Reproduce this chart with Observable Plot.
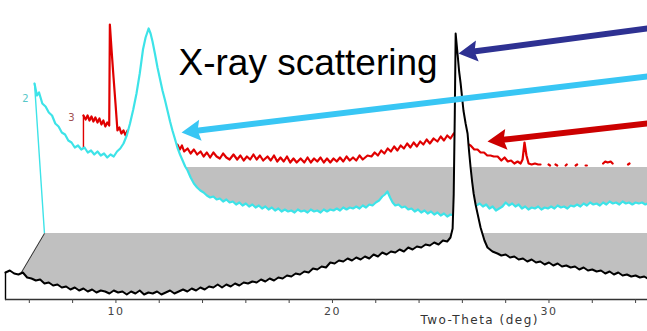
<!DOCTYPE html>
<html><head><meta charset="utf-8">
<script src="https://cdn.jsdelivr.net/npm/d3@7"></script>
<script src="https://cdn.jsdelivr.net/npm/@observablehq/plot@0.6"></script>
<style>
html,body{margin:0;padding:0;background:#fff;overflow:hidden}
</style></head><body><div id="chart"></div>
<script>
// ---- data (two-theta in degrees, intensity in arbitrary counts above each trace's own baseline) ----
const seriesLabels = ["1", "2", "3"];
const xTicks = [6, 8, 10, 12, 14, 16, 18, 20, 22, 24, 26, 28, 30, 32, 34];
const xTickLabels = [10, 20, 30];
const axisTitle = "Two-Theta (deg)";
const titleText = "X-ray scattering";

// trace 1 (front, black)
const black = [
[4.9,27],[5.1,29],[5.3,26],[5.5,25],[5.7,27],[5.9,22],[6.1,21],[6.3,19],[6.5,20],[6.7,16],[6.9,17],[7.1,14],[7.3,15],[7.5,12],[7.7,13],[7.9,10],[8.1,12],[8.3,9],[8.5,11],[8.7,8],[8.9,10],[9.1,7],[9.3,9],[9.5,8],[9.7,6],[9.9,9],[10.1,7],[10.3,8],[10.5,5],[10.7,8],[10.9,6],[11.1,9],[11.3,5],[11.5,7],[11.7,6],[11.9,8],[12.1,5],[12.3,7],[12.5,9],[12.7,6],[12.9,8],[13.1,10],[13.3,8],[13.5,11],[13.7,9],[13.9,12],[14.1,10],[14.3,13],[14.5,12],[14.7,15],[14.9,12],[15.1,15],[15.3,13],[15.5,16],[15.7,14],[15.9,17],[16.1,16],[16.3,18],[16.5,17],[16.7,20],[16.9,18],[17.1,21],[17.3,19],[17.5,22],[17.7,21],[17.9,24],[18.1,23],[18.3,26],[18.5,25],[18.7,28],[18.9,27],[19.1,31],[19.3,30],[19.5,33],[19.7,32],[19.9,37],[20.1,36],[20.3,39],[20.5,38],[20.7,41],[20.9,39],[21.1,42],[21.3,40],[21.5,43],[21.7,41],[21.9,45],[22.1,43],[22.3,47],[22.5,45],[22.7,48],[22.9,47],[23.1,50],[23.3,48],[23.5,52],[23.7,50],[23.9,53],[24.1,52],[24.3,55],[24.5,54],[24.7,57],[24.9,55],[25.1,59],[25.3,58],[25.45,62],[25.55,71],[25.6,105],[25.65,185],[25.69,266],[25.78,245],[25.85,228],[25.92,216],[26.05,189],[26.15,176],[26.24,166],[26.31,148],[26.38,132],[26.45,118],[26.52,106],[26.61,95],[26.7,86],[26.84,72],[27.02,59],[27.16,52],[27.39,48],[27.62,46],[27.8,44],[28.0,45],[28.2,42],[28.4,43],[28.6,40],[28.8,41],[29.0,38],[29.2,40],[29.4,37],[29.6,38],[29.8,35],[30.0,37],[30.2,34],[30.4,36],[30.6,33],[30.8,34],[31.0,32],[31.2,33],[31.4,30],[31.6,32],[31.8,29],[32.0,30],[32.2,28],[32.4,29],[32.6,26],[32.8,28],[33.0,25],[33.2,27],[33.4,24],[33.6,25],[33.8,23],[34.0,24],[34.2,22],[34.4,23],[34.55,21]
];

// trace 2 (middle, cyan)
const cyan = [
[4.44,150],[4.55,138],[4.65,141],[4.8,130],[4.95,127],[5.1,121],[5.25,118],[5.4,110],[5.55,107],[5.7,101],[5.85,99],[6.0,93],[6.15,91],[6.3,86],[6.45,88],[6.6,84],[6.75,86],[6.9,81],[7.05,83],[7.2,79],[7.35,82],[7.5,78],[7.65,80],[7.8,76],[7.95,79],[8.1,77],[8.25,82],[8.4,85],[8.55,90],[8.7,98],[8.85,110],[9.0,124],[9.15,140],[9.3,160],[9.45,184],[9.57,196],[9.71,205],[9.8,200],[9.89,192],[10.0,180],[10.12,166],[10.25,153],[10.35,143],[10.47,133],[10.58,123],[10.7,112],[10.81,103],[10.92,95],[11.04,86],[11.16,79],[11.28,73],[11.4,67],[11.51,63],[11.65,56],[11.8,50],[11.95,46],[12.1,43],[12.25,41],[12.4,38],[12.55,36],[12.7,37],[12.85,34],[13.0,35],[13.15,32],[13.3,34],[13.45,31],[13.6,32],[13.75,29],[13.9,31],[14.05,28],[14.2,30],[14.35,27],[14.5,29],[14.65,26],[14.8,28],[14.95,25],[15.1,27],[15.25,24],[15.4,26],[15.55,23],[15.7,25],[15.85,22],[16.0,24],[16.15,22],[16.3,23],[16.45,21],[16.6,24],[16.75,22],[16.9,23],[17.05,21],[17.2,24],[17.35,22],[17.5,23],[17.65,21],[17.8,24],[17.95,22],[18.1,24],[18.25,23],[18.4,25],[18.55,23],[18.7,26],[18.85,24],[19.0,26],[19.15,25],[19.3,27],[19.45,25],[19.6,28],[19.75,26],[19.9,29],[20.05,28],[20.2,31],[20.35,33],[20.5,37],[20.62,39],[20.74,42],[20.86,36],[20.98,31],[21.1,28],[21.25,29],[21.4,26],[21.55,27],[21.7,24],[21.85,25],[22.0,22],[22.15,24],[22.3,21],[22.45,23],[22.6,20],[22.75,22],[22.9,19],[23.05,21],[23.2,18],[23.35,20],[23.5,17],[23.65,19],[23.8,18],[23.95,22],[24.1,20],[24.25,24],[24.4,22],[24.55,26],[24.7,25],[24.85,28],[25.0,30],[25.15,27],[25.3,29],[25.45,25],[25.6,27],[25.75,23],[25.9,25],[26.05,27],[26.2,31],[26.35,28],[26.5,30],[26.65,27],[26.8,29],[26.95,25],[27.1,27],[27.25,24],[27.4,26],[27.55,25],[27.7,27],[27.85,24],[28.0,26],[28.15,25],[28.3,27],[28.45,25],[28.6,28],[28.75,26],[28.9,27],[29.05,25],[29.2,28],[29.35,27],[29.5,29],[29.65,27],[29.8,30],[29.95,28],[30.1,31],[30.25,29],[30.4,30],[30.55,28],[30.7,31],[30.85,29],[31.0,32],[31.15,30],[31.3,31],[31.45,29],[31.6,32],[31.75,30],[31.9,31],[32.05,29],[32.2,31],[32.35,30],[32.5,31],[32.65,29],[32.75,30]
];

// trace 3 (back, red); null = not visible above the baseline
const red = [
[4.9,52],[5.0,48],[5.09,52],[5.18,47],[5.27,51],[5.36,46],[5.45,50],[5.55,45],[5.64,49],[5.73,43],[5.82,47],[5.91,41],[6.0,45],[6.09,42],[6.12,143],[6.2,117],[6.29,90],[6.38,64],[6.47,37],[6.56,40],[6.65,34],[6.75,37],[6.85,32],[6.94,37],[7.1,34],[7.3,33],[7.5,31],[7.7,30],[7.9,29],[8.1,28],[8.3,27],[8.5,27],[8.7,25],[8.9,24],[9.05,23],[9.24,23],[9.35,18],[9.45,22],[9.55,16],[9.71,19],[9.85,14],[10.0,18],[10.15,13],[10.31,16],[10.45,11],[10.6,15],[10.75,10],[10.9,15],[11.05,11],[11.2,9],[11.35,14],[11.5,10],[11.65,8],[11.83,13],[12.0,8],[12.15,12],[12.3,7],[12.45,11],[12.6,8],[12.75,13],[12.9,8],[13.05,12],[13.2,7],[13.4,11],[13.55,7],[13.7,12],[13.85,6],[14.0,10],[14.15,6],[14.3,11],[14.45,5],[14.6,9],[14.75,5],[14.93,9],[15.1,5],[15.25,10],[15.4,5],[15.55,9],[15.7,6],[15.85,10],[16.0,5],[16.15,9],[16.3,5],[16.45,9],[16.6,6],[16.75,10],[16.9,6],[17.05,11],[17.2,7],[17.35,10],[17.5,7],[17.65,12],[17.8,8],[18.02,12],[18.2,11],[18.35,15],[18.5,12],[18.65,17],[18.8,14],[18.95,19],[19.1,16],[19.25,21],[19.4,17],[19.55,22],[19.7,19],[19.85,24],[20.0,20],[20.15,25],[20.3,21],[20.45,26],[20.6,23],[20.75,28],[20.9,24],[21.07,29],[21.25,26],[21.4,31],[21.55,27],[21.7,32],[21.85,29],[22.0,34],[22.15,30],[22.3,28],[22.45,26],[22.6,24],[22.78,22],[22.95,18],[23.1,18],[23.24,15],[23.4,15],[23.55,12],[23.7,12],[23.85,11],[24.03,11],[24.2,7],[24.35,10],[24.5,6],[24.65,7],[24.8,4],[24.95,6],[25.09,4],[25.18,8],[25.27,25],[25.36,12],[25.46,4],[25.6,3],[25.75,4],[25.9,3],[26.01,3],[26.1,null],[26.38,3],[26.45,2],[26.55,null],[26.7,3],[26.78,2],[26.85,null],[27.17,2],[27.22,3],[27.3,null],[27.63,2],[27.7,3],[27.78,null],[28.09,2],[28.15,2],[28.22,null],[28.9,4],[29.0,6],[29.11,5],[29.25,6],[29.34,4],[29.4,null],[30.05,3],[30.12,4],[30.18,null]
];

// annotation arrows: start (off the right edge) and tip, in axis coordinates
const arrows = [
  {target: "peak",  x1: 35.2, y1: 272.9, x2: 25.82, y2: 246},
  {target: "cyan",  x1: 35.2, y1: 224.7, x2: 13.03, y2: 167},
  {target: "red",   x1: 35.2, y1: 177.6, x2: 27.16, y2: 158}
];

// ---- layout & style ----
const W = 647, H = 331, ML = 5, MR = 0, MT = 0, MB = 32;
const X0 = 4.9, X1 = 34.55;          // visible two-theta range of the front trace
const DX = 1.8, DY = 66;             // 3-D offset between stacked traces
const GRAY = "#c0c0c0";
const COLORS = {black: "#000000", cyan: "#3de3e8", red: "#e00000"};
const WIDTHS = {black: 2, cyan: 2.2, red: 2.2};
const ARROW_COLORS = {peak: "#2e3192", cyan: "#38c6f4", red: "#cc0000"};
const HEAD_LEN = 19, HEAD_HALF = 10.5, SHAFT = 6;

const xs = d3.scaleLinear([X0, X1], [ML, W - MR]);
const ys = d3.scaleLinear([0, H - MT - MB], [H - MB, MT]);

const px = k => d => d[0] + k * DX;
const py = k => d => (d[1] == null ? NaN : d[1] + k * DY);

function planeMarks(k) {
  const poly = [
    [X0 + k * DX, k * DY, k * DY],
    [X0 + (k + 1) * DX, k * DY, (k + 1) * DY],
    [X1, k * DY, (k + 1) * DY]
  ];
  return [
    Plot.areaY(poly, {x: d => d[0], y1: d => d[1], y2: d => d[2], fill: GRAY, curve: "linear"}),
    Plot.link([poly[0]], {x1: d => d[0], y1: d => d[1], x2: () => poly[1][0], y2: () => poly[1][2], stroke: "#333", strokeWidth: 1})
  ];
}

function traceMarks(data, k, name, fillUnder) {
  const color = COLORS[name];
  const edge = [[X0, 0], data[0]];
  const m = [];
  if (fillUnder) m.push(Plot.areaY(data, {x: px(k), y1: () => k * DY, y2: py(k), fill: "#fff", curve: "linear"}));
  m.push(Plot.line(edge, {x: px(k), y: d => d[1] + k * DY, stroke: color, strokeWidth: 1.4}));
  m.push(Plot.line(data, {x: px(k), y: py(k), stroke: color, strokeWidth: WIDTHS[name], curve: "linear"}));
  return m;
}

function arrowMarks(a) {
  const color = ARROW_COLORS[a.target];
  const sx = xs(a.x1), sy = ys(a.y1), tx = xs(a.x2), ty = ys(a.y2);
  const L = Math.hypot(tx - sx, ty - sy), ux = (tx - sx) / L, uy = (ty - sy) / L;
  const nx = -uy, ny = ux;
  const bx = -ux * HEAD_LEN, by = -uy * HEAD_LEN;
  const head = {draw(ctx) {
    ctx.moveTo(0, 0);
    ctx.lineTo(bx + nx * HEAD_HALF, by + ny * HEAD_HALF);
    ctx.lineTo(bx * 0.85, by * 0.85);
    ctx.lineTo(bx - nx * HEAD_HALF, by - ny * HEAD_HALF);
    ctx.closePath();
  }};
  const baseX = xs.invert(tx - ux * HEAD_LEN * 0.8), baseY = ys.invert(ty - uy * HEAD_LEN * 0.8);
  return [
    Plot.link([a], {x1: d => d.x1, y1: d => d.y1, x2: () => baseX, y2: () => baseY, stroke: color, strokeWidth: SHAFT}),
    Plot.dot([a], {x: d => d.x2, y: d => d.y2, symbol: head, fill: color, stroke: "none", r: 10})
  ];
}

const chart = Plot.plot({
  width: W, height: H,
  marginLeft: ML, marginRight: MR, marginTop: MT, marginBottom: MB,
  x: {domain: [X0, X1], axis: null},
  y: {domain: [0, H - MT - MB], axis: null},
  style: {fontFamily: "Liberation Sans, Arial, sans-serif", background: "#fff"},
  marks: [
    ...planeMarks(1),
    ...traceMarks(red, 2, "red", false),
    ...traceMarks(cyan, 1, "cyan", true),
    ...planeMarks(0),
    ...traceMarks(black, 0, "black", true),
    Plot.text([seriesLabels[1]], {x: () => cyan[0][0] + DX, y: () => cyan[0][1] + DY, dx: -9, dy: 15, fill: "#58c8c8", fontSize: 10, fontFamily: "DejaVu Sans"}),
    Plot.text([seriesLabels[2]], {x: () => red[0][0] + 2 * DX, y: () => red[0][1] + 2 * DY, dx: -12, dy: 2, fill: "#a05050", fontSize: 10, fontFamily: "DejaVu Sans"}),
    Plot.ruleY([0], {stroke: "#333", strokeWidth: 1.5}),
    Plot.axisX({ticks: xTicks, tickSize: 4, tickPadding: 4, tickFormat: d => xTickLabels.includes(d) ? String(d) : "", label: null, fontSize: 11, fontFamily: "DejaVu Sans", color: "#444"}),
    Plot.text([axisTitle], {x: () => 26.8, frameAnchor: "bottom", dy: 24, fontSize: 12, fontFamily: "DejaVu Sans", fill: "#333"}),
    Plot.text([titleText], {x: () => 12.89, y: () => 236, textAnchor: "start", fontSize: 37, fill: "#000", fontFamily: "Liberation Sans"}),
    ...arrows.flatMap(arrowMarks)
  ]
});

d3.select(chart).selectAll("text").each(function() {
  const t = this.textContent;
  if (t === axisTitle) d3.select(this).style("letter-spacing", "1.5px");
  if (xTickLabels.map(String).includes(t)) d3.select(this).style("letter-spacing", "1.5px");
});
document.getElementById("chart").appendChild(chart);
</script></body></html>
